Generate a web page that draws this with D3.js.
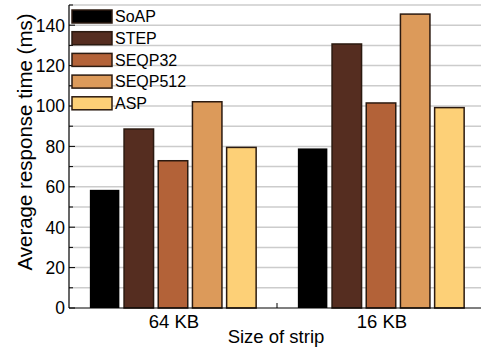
<!DOCTYPE html>
<html>
<head>
<meta charset="utf-8">
<script src="https://cdn.jsdelivr.net/npm/d3@7"></script>
<style>
  body { margin: 0; background: #fff; }
  svg { display: block; font-family: Arial, "Liberation Sans", sans-serif; }
</style>
</head>
<body>
<div id="chart"></div>
<script>
var groups = ['64 KB', '16 KB']
var series = ['SoAP', 'STEP', 'SEQP32', 'SEQP512', 'ASP']
var colors = ['#000000', '#552d20', '#b36238', '#dc9a5a', '#fdd077']
var values = {
  'SoAP':    [58.5, 79],
  'STEP':    [88.6, 130.7],
  'SEQP32':  [72.9, 101.5],
  'SEQP512': [102.1, 145.5],
  'ASP':     [79.5, 99.2]
}
var yTicks = [0, 20, 40, 60, 80, 100, 120, 140]

var width = 481
var height = 350
var margin = {left: 69, right: -4, top: 5, bottom: 42}

var svg = d3.select('#chart').append('svg')
  .attr('width', width)
  .attr('height', height)

var x0 = d3.scaleBand()
  .domain(groups)
  .range([margin.left, width - margin.right])

var x1 = d3.scaleBand()
  .domain(series)
  .range([0, x0.bandwidth()])
  .paddingInner(0.137)
  .paddingOuter(0.61)

var y = d3.scaleLinear()
  .domain([0, 150])
  .range([height - margin.bottom, margin.top])

var color = d3.scaleOrdinal().domain(series).range(colors)

// grid
svg.append('g')
  .selectAll('line')
  .data(d3.range(10, 151, 10))
  .join('line')
  .attr('x1', margin.left)
  .attr('x2', width)
  .attr('y1', d => y(d))
  .attr('y2', d => y(d))
  .attr('stroke', '#cccccc')
  .attr('stroke-width', 1.5)

// bars
var barData = []
groups.forEach((g, gi) => {
  series.forEach(s => barData.push({group: g, key: s, value: values[s][gi]}))
})

svg.append('g')
  .selectAll('rect')
  .data(barData)
  .join('rect')
  .attr('x', d => x0(d.group) + x1(d.key))
  .attr('y', d => y(d.value))
  .attr('width', x1.bandwidth())
  .attr('height', d => y(0) - y(d.value))
  .attr('fill', d => color(d.key))
  .attr('stroke', d => d.key === 'SoAP' ? 'none' : '#2b1a10')
  .attr('stroke-width', 1.5)

// y axis
var yAxis = svg.append('g')
  .attr('transform', `translate(${margin.left},0)`)

yAxis.append('line')
  .attr('x1', 0).attr('x2', 0)
  .attr('y1', y(0)).attr('y2', y(150))
  .attr('stroke', '#000').attr('stroke-width', 1.2)

yAxis.selectAll('.minor')
  .data(d3.range(0, 151, 10))
  .join('line')
  .attr('x1', 0)
  .attr('x2', d => d % 20 === 0 ? 6 : 4)
  .attr('y1', d => y(d))
  .attr('y2', d => y(d))
  .attr('stroke', '#000')
  .attr('stroke-width', 1)

yAxis.selectAll('text')
  .data(yTicks)
  .join('text')
  .attr('x', -4)
  .attr('y', d => y(d))
  .attr('dy', '0.36em')
  .attr('text-anchor', 'end')
  .attr('font-size', 17.5)
  .text(d => d)

// x axis
var xAxis = svg.append('g')

xAxis.append('line')
  .attr('x1', margin.left).attr('x2', width)
  .attr('y1', y(0)).attr('y2', y(0))
  .attr('stroke', '#000').attr('stroke-width', 1.2)

xAxis.selectAll('.sep')
  .data(groups.slice(1))
  .join('line')
  .attr('x1', d => x0(d)).attr('x2', d => x0(d))
  .attr('y1', y(0)).attr('y2', y(0) - 5)
  .attr('stroke', '#000')

xAxis.selectAll('text')
  .data(groups)
  .join('text')
  .attr('x', d => x0(d) + x0.bandwidth() / 2 + 1)
  .attr('y', y(0) + 20)
  .attr('text-anchor', 'middle')
  .attr('font-size', 18.5)
  .text(d => d)

// axis titles
svg.append('text')
  .attr('x', x0(groups[1]) - 1)
  .attr('y', 343)
  .attr('text-anchor', 'middle')
  .attr('font-size', 18.5)
  .text('Size of strip')

svg.append('text')
  .attr('transform', `translate(32,142) rotate(-90)`)
  .attr('text-anchor', 'middle')
  .attr('font-size', 20.5)
  .text('Average response time (ms)')

// legend
var legend = svg.append('g')
  .selectAll('g')
  .data(series)
  .join('g')
  .attr('transform', (d, i) => `translate(72,${10 + i * 21.7})`)

legend.append('rect')
  .attr('width', 40)
  .attr('height', 13)
  .attr('fill', d => color(d))
  .attr('stroke', '#2b1a10')
  .attr('stroke-width', 1.5)

legend.append('text')
  .attr('x', 43)
  .attr('y', 6.5)
  .attr('dy', '0.36em')
  .attr('font-size', 16)
  .text(d => d)
</script>
</body>
</html>
